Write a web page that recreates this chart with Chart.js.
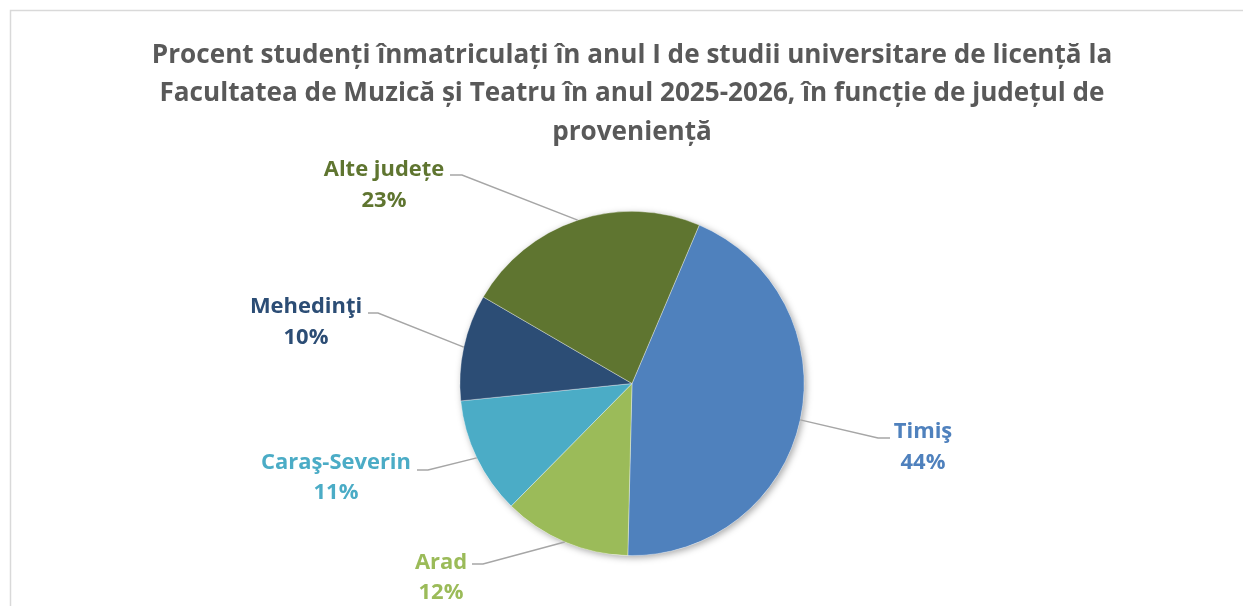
<!DOCTYPE html>
<html>
<head>
<meta charset="utf-8">
<script src="https://cdn.jsdelivr.net/npm/chart.js@4.4.1/dist/chart.umd.min.js"></script>
<style>
  html, body { margin: 0; padding: 0; background: #ffffff; }
  #wrap { width: 1243px; height: 606px; position: relative; }
</style>
</head>
<body>
<div id="wrap"><canvas id="c" width="1243" height="606"></canvas></div>
<script>
// ---- data ----
const categories = ['Timiş', 'Arad', 'Caraş-Severin', 'Mehedinţi', 'Alte județe'];
const percentValues = [44, 12, 11, 10, 23];
const titleLines = [
  'Procent studenți înmatriculați în anul I de studii universitare de licență la',
  'Facultatea de Muzică și Teatru în anul 2025-2026, în funcție de județul de',
  'proveniență'
];

// ---- styles ----
const sliceColors = ['#4F81BD', '#9BBB59', '#4BACC6', '#2C4D75', '#5F7530'];
const labelColors = ['#4F81BD', '#9BBB59', '#4BACC6', '#2C4D75', '#5F7530'];
const FONT = "'Open Sans', 'Noto Sans', sans-serif";

// label placement (layout only): text centre x, first line y, second line y,
// horizontal segment text-side x, elbow x, segment y
const labelLayout = [
  { tx: 923, ty: 432, ty2: 463, hx: 890, ex: 878, ly: 438 },
  { tx: 441, ty: 563, ty2: 593, hx: 472, ex: 483, ly: 564 },
  { tx: 336, ty: 463, ty2: 493, hx: 417, ex: 428, ly: 470 },
  { tx: 306, ty: 307, ty2: 338, hx: 368, ex: 378, ly: 313 },
  { tx: 384, ty: 170, ty2: 201, hx: 450, ex: 462, ly: 175 }
];

// fit font sizes to the reference text widths
const mctx = document.createElement('canvas').getContext('2d');
function fitSize(text, weight, target) {
  mctx.font = weight + ' 100px ' + FONT;
  return 100 * target / mctx.measureText(text).width;
}
const titleSize = fitSize(titleLines[0], 'bold', 961);
const labelSize = fitSize('Caraş-Severin', 'bold', 150);

const frame = {
  id: 'frame',
  beforeDraw(chart) {
    const ctx = chart.ctx;
    ctx.save();
    ctx.fillStyle = '#ffffff';
    ctx.fillRect(0, 0, chart.width, chart.height);
    ctx.strokeStyle = '#D9D9D9';
    ctx.lineWidth = 1.5;
    ctx.strokeRect(10.5, 10.5, 2000, 2000);
    ctx.restore();
  }
};

const pieShadow = {
  id: 'pieShadow',
  beforeDatasetsDraw(chart) {
    const arc = chart.getDatasetMeta(0).data[0];
    if (!arc) return;
    const ctx = chart.ctx;
    ctx.save();
    ctx.shadowColor = 'rgba(0,0,0,0.35)';
    ctx.shadowBlur = 7;
    ctx.shadowOffsetX = 2;
    ctx.shadowOffsetY = 2;
    ctx.fillStyle = '#ffffff';
    ctx.beginPath();
    ctx.arc(arc.x, arc.y, arc.outerRadius, 0, Math.PI * 2);
    ctx.fill();
    ctx.restore();
  }
};

const leaderLabels = {
  id: 'leaderLabels',
  afterDatasetsDraw(chart) {
    const ctx = chart.ctx;
    const meta = chart.getDatasetMeta(0);
    const data = chart.data.datasets[0].data;
    const total = data.reduce((a, b) => a + b, 0);
    meta.data.forEach((arc, i) => {
      const L = labelLayout[i];
      const mid = (arc.startAngle + arc.endAngle) / 2;
      const sx = arc.x + Math.cos(mid) * arc.outerRadius;
      const sy = arc.y + Math.sin(mid) * arc.outerRadius;
      ctx.save();
      ctx.strokeStyle = '#A6A6A6';
      ctx.lineWidth = 1.5;
      ctx.beginPath();
      ctx.moveTo(sx, sy);
      ctx.lineTo(L.ex, L.ly);
      ctx.lineTo(L.hx, L.ly);
      ctx.stroke();
      ctx.fillStyle = labelColors[i];
      ctx.font = 'bold ' + labelSize + 'px ' + FONT;
      ctx.textAlign = 'center';
      ctx.textBaseline = 'middle';
      ctx.fillText(chart.data.labels[i], L.tx, L.ty);
      ctx.fillText(Math.round(data[i] / total * 100) + '%', L.tx, L.ty2);
      ctx.restore();
    });
  }
};

new Chart(document.getElementById('c'), {
  type: 'pie',
  data: {
    labels: categories,
    datasets: [{
      data: percentValues,
      backgroundColor: sliceColors,
      borderColor: 'rgba(255,255,255,0.45)',
      borderWidth: 0.75
    }]
  },
  options: {
    responsive: false,
    animation: false,
    rotation: 23,
    layout: { padding: { left: 21, right: 0, top: 0, bottom: 50 } },
    plugins: {
      legend: { display: false },
      tooltip: { enabled: false },
      title: {
        display: true,
        text: titleLines,
        color: '#595959',
        font: { family: FONT, size: titleSize, weight: 'bold', lineHeight: 38.5 / titleSize },
        padding: { top: 36.25, bottom: 59.25 }
      }
    }
  },
  plugins: [frame, pieShadow, leaderLabels]
});
</script>
</body>
</html>
